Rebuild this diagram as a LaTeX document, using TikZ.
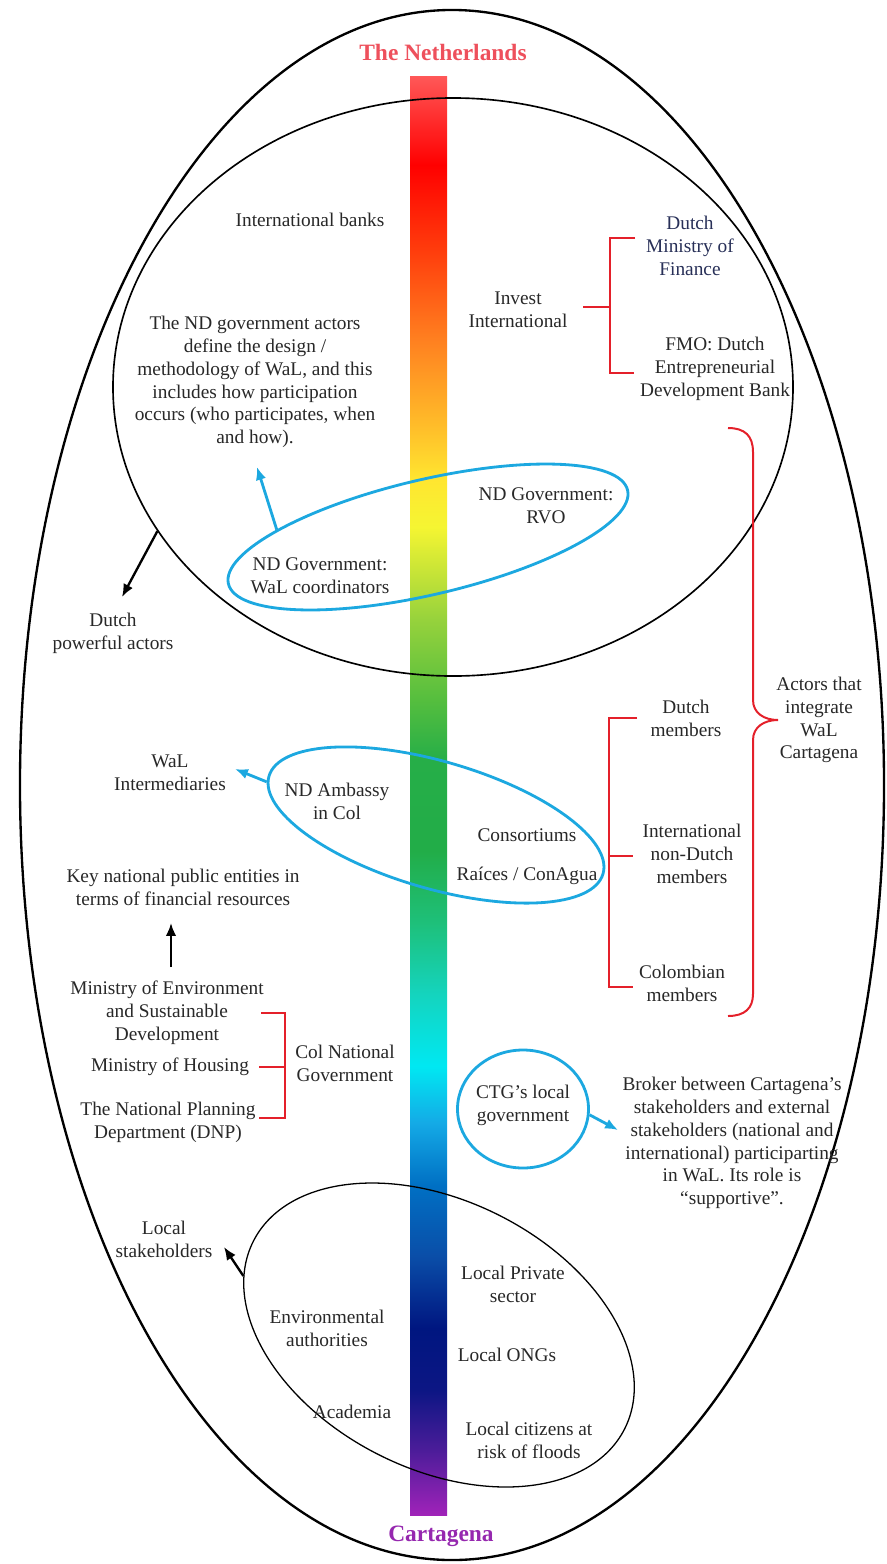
\documentclass[tikz,border=0pt]{standalone}
\usepackage{fontspec}
\setmainfont{Liberation Serif}
\usepackage{xcolor}
\usetikzlibrary{arrows.meta,shapes.geometric}

\definecolor{txt}{RGB}{40,40,40}
\definecolor{navytxt}{RGB}{40,48,88}
\definecolor{nlred}{RGB}{238,80,92}
\definecolor{ctgpurple}{RGB}{150,40,175}
\definecolor{ringblue}{RGB}{28,168,224}
\definecolor{brkred}{RGB}{228,32,42}
\definecolor{bar01}{RGB}{160,35,185}
\definecolor{bar02}{RGB}{72,28,152}
\definecolor{bar03}{RGB}{12,22,132}
\definecolor{bar04}{RGB}{0,22,128}
\definecolor{bar05}{RGB}{10,78,168}
\definecolor{bar06}{RGB}{0,112,196}
\definecolor{bar07}{RGB}{20,170,230}
\definecolor{bar08}{RGB}{0,232,242}
\definecolor{bar09}{RGB}{20,212,190}
\definecolor{bar10}{RGB}{30,192,122}
\definecolor{bar11}{RGB}{34,173,72}
\definecolor{bar12}{RGB}{38,174,72}
\definecolor{bar13}{RGB}{85,190,62}
\definecolor{bar14}{RGB}{150,210,60}
\definecolor{bar15}{RGB}{245,245,50}
\definecolor{bar16}{RGB}{255,230,48}
\definecolor{bar17}{RGB}{255,192,42}
\definecolor{bar18}{RGB}{255,128,32}
\definecolor{bar19}{RGB}{255,60,12}
\definecolor{bar20}{RGB}{255,0,0}
\definecolor{bar21}{RGB}{255,88,88}

\pgfdeclareverticalshading{barshade}{100bp}{color(0bp)=(bar01); color(25bp)=(bar01);
  color(27.36bp)=(bar02); color(29.34bp)=(bar03); color(31.5bp)=(bar04);
  color(34bp)=(bar05); color(36.47bp)=(bar06); color(38.62bp)=(bar07);
  color(40.6bp)=(bar08); color(43.1bp)=(bar09); color(45.57bp)=(bar10);
  color(48.07bp)=(bar11); color(51.23bp)=(bar12); color(53.32bp)=(bar13);
  color(56.1bp)=(bar14); color(59.33bp)=(bar15); color(60.96bp)=(bar16);
  color(62.7bp)=(bar17); color(65.83bp)=(bar18); color(68.96bp)=(bar19);
  color(71.91bp)=(bar20); color(75bp)=(bar21); color(100bp)=(bar21)}

\begin{document}
\begin{tikzpicture}[
  x=0.03cm, y=-0.03cm,
  lbl/.style={align=center, text=txt, inner sep=2pt, font=\fontsize{16.5}{19.5}\selectfont},
  dnlbl/.style={lbl, text=navytxt},
  ttl/.style={inner sep=2pt, font=\fontsize{20}{24}\selectfont\bfseries},
  ring/.style={draw=black, ellipse, inner sep=0pt},
  bring/.style={draw=ringblue, ellipse, inner sep=0pt, line width=2.4pt},
  arr/.style={-{Latex[length=11pt, width=9pt]}, line width=2pt},
  barr/.style={-{Latex[length=11pt, width=9pt]}, line width=2.4pt, draw=ringblue, fill=ringblue},
  brk/.style={draw=brkred, line width=1.7pt}
]
\fill[white] (0,0) rectangle (886,1564);
\useasboundingbox (0,0) rectangle (886,1564);
\shade[shading=barshade] (410,76) rectangle (447,1515);

\node[ring, line width=2pt, minimum width=25.92cm, minimum height=46.5cm] (outer) at (452,785) {};
\node[ring, line width=1.4pt, minimum width=20.4cm, minimum height=17.34cm] (ndring) at (453,387) {};
\node[ring, line width=1.1pt, rotate=-26.8, minimum width=12.48cm, minimum height=8.04cm] (localring) at (439,1335) {};
\node[bring, rotate=13.2, minimum width=12.3cm, minimum height=3.45cm] (govring) at (428,537) {};
\node[bring, rotate=-16.3, minimum width=10.44cm, minimum height=3.81cm] (ambring) at (436,825) {};
\node[bring, minimum width=3.93cm, minimum height=3.54cm] (ctgring) at (523,1109) {};

\node[ttl, text=nlred] (nl) at (443,52) {The Netherlands};
\node[ttl, text=ctgpurple] (ctg) at (441,1536) {Cartagena};

\node[lbl] (banks) at (310,220) {International banks};
\node[lbl] (ndtext) at (255,382) {The ND government actors\\define the design /\\methodology of WaL, and this\\includes how participation\\occurs (who participates, when\\and how).};
\node[lbl] (invest) at (518,310) {Invest\\International};
\node[dnlbl] (minfin) at (690,246) {Dutch\\Ministry of\\Finance};
\node[lbl] (fmo) at (715,369) {FMO: Dutch\\Entrepreneurial\\Development Bank};
\node[lbl] (coord) at (320,576) {ND Government:\\WaL coordinators};
\node[lbl] (rvo) at (546,506) {ND Government:\\RVO};
\node[lbl] (dutchpow) at (113,633) {Dutch\\powerful actors};
\node[lbl] (actors) at (819,720) {Actors that\\integrate\\WaL\\Cartagena};
\node[lbl] (dmem) at (686,718) {Dutch\\members};
\node[lbl] (imem) at (692,854) {International\\non-Dutch\\members};
\node[lbl] (cmem) at (682,983) {Colombian\\members};
\node[lbl] (consort) at (527,835) {Consortiums};
\node[lbl] (raices) at (527,876) {Raíces / ConAgua};
\node[lbl] (ambassy) at (337,801) {ND Ambassy\\in Col};
\node[lbl] (interm) at (170,773) {WaL\\Intermediaries};
\node[lbl] (keynat) at (183,887) {Key national public entities in\\terms of financial resources};
\node[lbl] (minenv) at (167,1013) {Ministry of Environment\\and Sustainable\\Development};
\node[lbl] (minhous) at (170,1067) {Ministry of Housing};
\node[lbl] (dnp) at (168,1122) {The National Planning\\Department (DNP)};
\node[lbl] (colgov) at (345,1063) {Col National\\Government};
\node[lbl] (ctggov) at (523,1105) {CTG's local\\government};
\node[lbl] (broker) at (732,1143) {Broker between Cartagena's\\stakeholders and external\\stakeholders (national and\\international) participarting\\in WaL. Its role is\\``supportive''.};
\node[lbl] (lstake) at (164,1239) {Local\\stakeholders};
\node[lbl] (envauth) at (327,1328) {Environmental\\authorities};
\node[lbl] (academia) at (352,1412) {Academia};
\node[lbl] (lpriv) at (513,1284) {Local Private\\sector};
\node[lbl] (longs) at (507,1355) {Local ONGs};
\node[lbl] (lcit) at (529,1440) {Local citizens at\\risk of floods};

\coordinate (dutchtip) at (122,597);
\coordinate (ndtip) at (257,467);
\coordinate (intertip) at (235,769);
\coordinate (brokertip) at (618,1130);
\coordinate (localtip) at (224,1247);
\coordinate (keytip) at (171,923);
\coordinate (bracetop) at (728,428);
\coordinate (bracebot) at (728,1016);

\draw[arr] (ndring.206) -- (dutchtip);
\draw[barr] (govring.164) -- (ndtip);
\draw[barr] (ambring.182) -- (intertip);
\draw[barr] (ctgring.-5) -- (brokertip);
\draw[arr] (localring.190) -- (localtip);
\draw[arr, shorten <=10pt] (minenv.north -| keytip) -- (keytip);

\draw[brk] (583,307) -- (610,307) (635,238) -- (610,238) -- (610,373) -- (634,373);
\draw[brk] (637,718) -- (609,718) -- (609,987) -- (633,987) (609,856) -- (633,856);
\draw[brk] (261,1013) -- (285,1013) -- (285,1118) -- (259,1118) (259,1067) -- (285,1067);
\draw[brk] (bracetop) .. controls (745,428) and (753,436) .. (753,452) -- (753,700)
  .. controls (753,713) and (764,720) .. (778,720)
  .. controls (764,720) and (753,727) .. (753,740) -- (753,994)
  .. controls (753,1008) and (745,1016) .. (bracebot);
\end{tikzpicture}
\end{document}
